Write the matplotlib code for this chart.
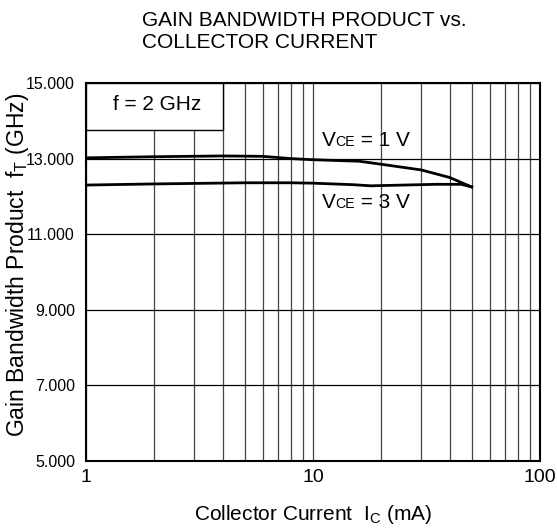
import numpy as np
import matplotlib.pyplot as plt
from matplotlib.patches import Rectangle
from matplotlib.ticker import FixedLocator, NullFormatter
from matplotlib.offsetbox import TextArea, HPacker, AnnotationBbox

plt.rcParams['font.family'] = ['Liberation Sans', 'DejaVu Sans']
plt.rcParams['mathtext.fontset'] = 'custom'
plt.rcParams['mathtext.rm'] = 'Liberation Sans'

# collector current (mA) and fT (GHz)
ic_1v = [1, 2, 4, 6, 8, 10, 16, 20, 30, 40, 50]
ft_1v = [13.02, 13.05, 13.07, 13.06, 13.00, 12.97, 12.93, 12.85, 12.70, 12.50, 12.25]
ic_3v = [1, 2, 5, 8, 10, 15, 18, 25, 35, 45, 50]
ft_3v = [12.30, 12.33, 12.36, 12.36, 12.35, 12.31, 12.28, 12.30, 12.32, 12.32, 12.25]

yticks = [5, 7, 9, 11, 13, 15]
xticks = [1, 10, 100]

FS = 15

fig = plt.figure(figsize=(5.57, 5.31), dpi=100)
ax = fig.add_axes([0.1544, 0.1318, 0.8151, 0.7119])

ax.plot(ic_1v, ft_1v, color='black', lw=2.0, zorder=4)
ax.plot(ic_3v, ft_3v, color='black', lw=2.0, zorder=4)

ax.set_xscale('log')
ax.set_xlim(1, 100)
ax.set_ylim(5, 15)
ax.set_xticks(xticks)
ax.set_xticklabels([str(t) for t in xticks])
ax.xaxis.set_minor_locator(FixedLocator([m * d for d in (1, 10) for m in range(2, 10)]))
ax.xaxis.set_minor_formatter(NullFormatter())
ax.set_yticks(yticks)
ax.set_yticklabels(['%.3f' % t for t in yticks], fontsize=11.5)
ax.tick_params(which='both', length=0)
ax.tick_params(axis='x', labelsize=14, pad=6)
ax.tick_params(axis='y', pad=8)
ax.grid(True, which='both', axis='x', color='#444444', lw=0.9)
ax.grid(True, which='major', axis='y', color='black', lw=0.9)
for s in ax.spines.values():
    s.set_linewidth(1.5)

# condition box
ax.add_patch(Rectangle((1, 13.76), 3.01, 15 - 13.76, facecolor='white', edgecolor='black', lw=1.0, zorder=3))
ax.text(2.05, 14.42, 'f = 2 GHz', ha='center', va='center', fontsize=FS, zorder=5)


def vce_label(x, y, volts):
    parts = [TextArea('V', textprops=dict(fontsize=FS)),
             TextArea('CE', textprops=dict(fontsize=FS * 0.68)),
             TextArea(' = %d V' % volts, textprops=dict(fontsize=FS))]
    box = HPacker(children=parts, align='baseline', pad=0, sep=0)
    ab = AnnotationBbox(box, (x, y), frameon=False, box_alignment=(0.5, 0.5), zorder=5)
    ax.add_artist(ab)


vce_label(17.1, 13.47, 1)
vce_label(17.1, 11.83, 3)

ax.set_xlabel(r'Collector Current  I$_{\mathregular{C}}$ (mA)', fontsize=FS, labelpad=12)
ax.set_ylabel(r'Gain Bandwidth Product  f$_{\mathregular{T}}$ (GHz)', fontsize=16.5)
ax.yaxis.set_label_coords(-0.122, 0.52)

fig.text(0.255, 0.9623, 'GAIN BANDWIDTH PRODUCT vs.', ha='left', va='center', fontsize=FS)
fig.text(0.255, 0.9209, 'COLLECTOR CURRENT', ha='left', va='center', fontsize=FS)

fig.savefig('out.png', dpi=100)
